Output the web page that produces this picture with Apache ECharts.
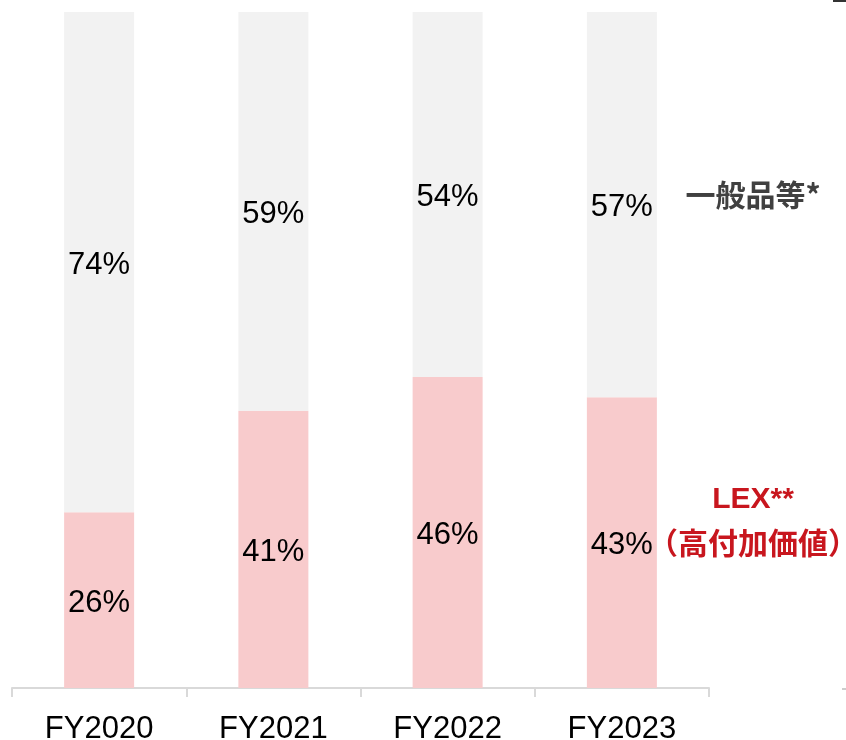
<!DOCTYPE html>
<html><head><meta charset="utf-8">
<script src="https://cdn.jsdelivr.net/npm/echarts@6/dist/echarts.min.js"></script>
<style>html,body{margin:0;padding:0;background:#fff}#c{width:846px;height:740px}</style>
</head><body><div id="c"></div>
<script>
const categories = ['FY2020','FY2021','FY2022','FY2023'];
const lexValues = [26,41,46,43];
const generalValues = [74,59,54,57];
const generalName = '一般品等*';
const lexName1 = 'LEX**';
const lexName2 = '（高付加価値）';

const chart = echarts.init(document.getElementById('c'));
const font = '"Liberation Sans", Arial, sans-serif';
const cjk = '"Noto Sans CJK JP", sans-serif';
const red = '#C8161E';
chart.setOption({
  animation:false,
  grid:{left:12,right:137,top:12,bottom:52,containLabel:false,outerBoundsMode:'none'},
  xAxis:{type:'category',data:categories,
    axisLine:{lineStyle:{color:'#D9D9D9',width:2}},
    axisTick:{show:true,length:9,lineStyle:{color:'#D9D9D9',width:2}},
    axisLabel:{color:'#000',fontSize:31,fontFamily:font,margin:26}},
  yAxis:{type:'value',min:0,max:100,show:false,splitLine:{show:false}},
  series:[
    {type:'bar',stack:'s',data:lexValues,barWidth:70,itemStyle:{color:'#F8CBCC'},
     label:{show:true,position:'inside',formatter:'{c}%',color:'#000',fontSize:31,fontFamily:font,offset:[0,3]}},
    {type:'bar',stack:'s',data:generalValues,barWidth:70,itemStyle:{color:'#F2F2F2'},
     label:{show:true,position:'inside',formatter:'{c}%',color:'#000',fontSize:31,fontFamily:font,offset:[0,3]}}
  ],
  graphic:[
    {type:'text',x:753,y:195,style:{text:generalName,fill:'#404040',font:'bold 30px '+cjk,align:'center',verticalAlign:'middle'}},
    {type:'text',x:753,y:500,style:{text:lexName1,fill:red,font:'bold 30px '+font,align:'center',verticalAlign:'middle'}},
    {type:'text',x:753,y:543,style:{text:lexName2,fill:red,font:'bold 30px '+cjk,align:'center',verticalAlign:'middle'}},
    {type:'rect',shape:{x:833,y:0,width:13,height:2},style:{fill:'#333'}},
    {type:'rect',shape:{x:842,y:688,width:4,height:2},style:{fill:'#ccc'}}
  ]
});
</script></body></html>
